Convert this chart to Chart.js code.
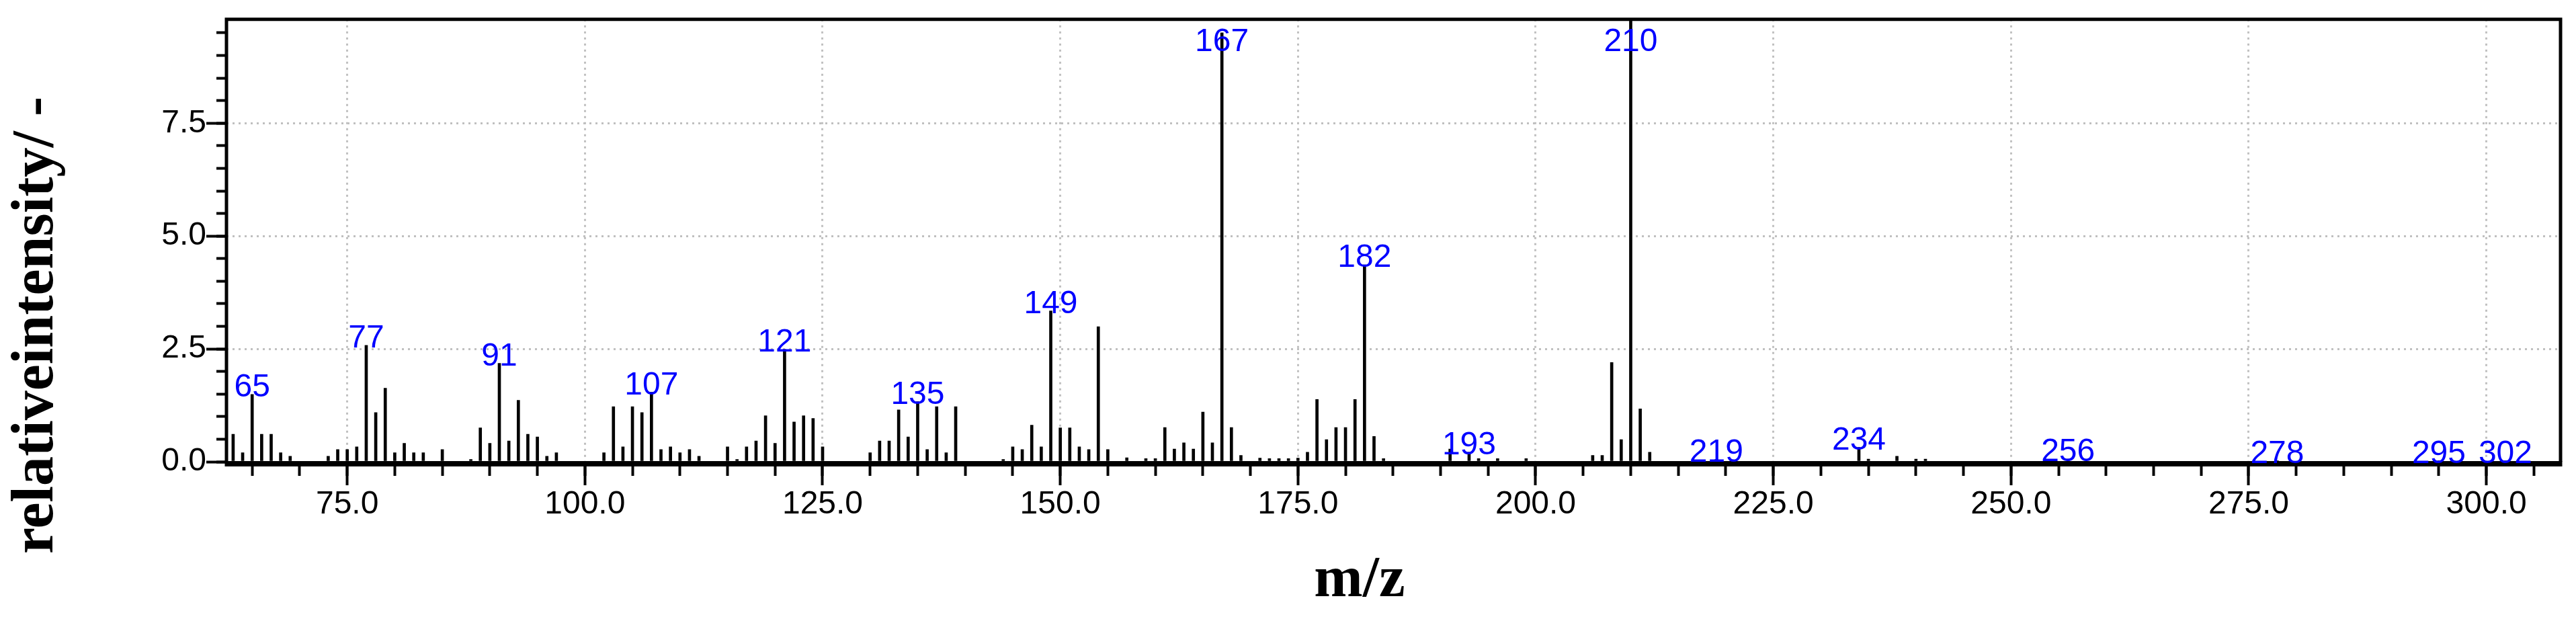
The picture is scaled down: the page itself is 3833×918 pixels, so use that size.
<!DOCTYPE html>
<html>
<head>
<meta charset="utf-8">
<script src="https://cdn.jsdelivr.net/npm/chart.js@4"></script>
<style>
  html, body { margin: 0; padding: 0; background: #fff; }
  canvas { display: block; }
</style>
</head>
<body>
<canvas id="ms" width="3833" height="918"></canvas>
<script>
// m/z values and relative intensities
const mz = [63, 64, 65, 66, 67, 68, 69, 73, 74, 75, 76, 77, 78, 79, 80, 81, 82, 83, 85,
  88, 89, 90, 91, 92, 93, 94, 95, 96, 97, 102, 103, 104, 105, 106, 107, 108, 109, 110, 111, 112,
  115, 116, 117, 118, 119, 120, 121, 122, 123, 124, 125, 130, 131, 132, 133, 134, 135, 136, 137, 138, 139,
  144, 145, 146, 147, 148, 149, 150, 151, 152, 153, 154, 155, 157, 159, 160, 161, 162, 163, 164, 165, 166,
  167, 168, 169, 171, 172, 173, 174, 175, 176, 177, 178, 179, 180, 181, 182, 183, 184,
  191, 193, 194, 196, 199, 206, 207, 208, 209, 210, 211, 212, 219, 234, 235, 238, 240, 241,
  256, 278, 295, 302];
const intensity = [0.61, 0.20, 1.49, 0.61, 0.61, 0.20, 0.12, 0.12, 0.27, 0.27, 0.33, 2.58, 1.09, 1.63, 0.20, 0.41, 0.20, 0.20, 0.27,
  0.05, 0.75, 0.41, 2.18, 0.46, 1.36, 0.61, 0.55, 0.12, 0.20, 0.20, 1.22, 0.33, 1.22, 1.09, 1.54, 0.27, 0.33, 0.20, 0.27, 0.12,
  0.33, 0.05, 0.33, 0.46, 1.02, 0.41, 2.49, 0.88, 1.02, 0.96, 0.33, 0.20, 0.46, 0.46, 1.15, 0.55, 1.33, 0.27, 1.22, 0.20, 1.22,
  0.05, 0.33, 0.27, 0.81, 0.33, 3.34, 0.75, 0.75, 0.33, 0.27, 2.99, 0.27, 0.09, 0.07, 0.07, 0.76, 0.28, 0.42, 0.28, 1.10, 0.42,
  9.50, 0.76, 0.14, 0.08, 0.07, 0.07, 0.07, 0.08, 0.21, 1.38, 0.49, 0.76, 0.76, 1.38, 4.36, 0.56, 0.07,
  0.28, 0.21, 0.07, 0.07, 0.07, 0.14, 0.14, 2.20, 0.49, 9.80, 1.17, 0.21, 0.05, 0.32, 0.06, 0.12, 0.06, 0.06,
  0.06, 0.02, 0.02, 0.02];

// peaks that carry a blue m/z label
const labelledPeaks = [65, 77, 91, 107, 121, 135, 149, 167, 182, 193, 210, 219, 234, 256, 278, 295, 302];

const xMin = 62.3, xMax = 307.8;
const yMin = 0, yMax = 9.8;
const xTitle = 'm/z';
const yTitle = 'relativeintensity/ -';

const sans = 'Liberation Sans';
const serif = 'Liberation Serif';

const frame = {
  id: 'frame',
  afterDraw(chart) {
    const ctx = chart.ctx;
    const { left, top, right, bottom } = chart.chartArea;
    ctx.save();
    ctx.strokeStyle = '#000';
    ctx.lineWidth = 5;
    ctx.beginPath();
    ctx.moveTo(left, bottom);
    ctx.lineTo(left, top);
    ctx.lineTo(right, top);
    ctx.lineTo(right, bottom);
    ctx.stroke();
    ctx.lineWidth = 8;
    ctx.beginPath();
    ctx.moveTo(left - 2.5, bottom + 3);
    ctx.lineTo(right + 2.5, bottom + 3);
    ctx.stroke();
    ctx.restore();
  }
};

const peakLabels = {
  id: 'peakLabels',
  afterDraw(chart) {
    const ctx = chart.ctx;
    const xs = chart.scales.x, ys = chart.scales.y;
    ctx.save();
    ctx.fillStyle = '#0000ff';
    ctx.font = '48px "' + sans + '"';
    ctx.textAlign = 'center';
    ctx.textBaseline = 'alphabetic';
    labelledPeaks.forEach(m => {
      const i = mz.indexOf(m);
      const px = xs.getPixelForValue(m);
      const py = ys.getPixelForValue(Math.min(intensity[i], yMax));
      ctx.fillText(String(m), px, Math.max(py + 3, chart.chartArea.top + 47));
    });
    ctx.restore();
  }
};

const titles = {
  id: 'titles',
  afterDraw(chart) {
    const ctx = chart.ctx;
    ctx.save();
    ctx.fillStyle = '#000';
    ctx.font = 'bold 87px "' + serif + '"';
    ctx.textAlign = 'center';
    ctx.textBaseline = 'alphabetic';
    ctx.fillText(xTitle, 2023, 887);
    ctx.translate(78, 824);
    ctx.rotate(-Math.PI / 2);
    ctx.font = 'bold 88px "' + serif + '"';
    ctx.textAlign = 'left';
    ctx.fillText(yTitle, 0, 0);
    ctx.restore();
  }
};

const tickFont = { family: sans, size: 48 };

new Chart(document.getElementById('ms'), {
  type: 'bar',
  data: {
    datasets: [{
      data: mz.map((m, i) => ({ x: m, y: intensity[i] })),
      backgroundColor: '#000',
      borderWidth: 0,
      barThickness: 4
    }]
  },
  options: {
    responsive: false,
    animation: false,
    layout: { padding: { top: 27, right: 23, left: 0, bottom: 0 } },
    plugins: { legend: { display: false }, tooltip: { enabled: false } },
    scales: {
      x: {
        type: 'linear', min: xMin, max: xMax, offset: false,
        border: { display: false, dash: [3, 6] },
        grid: { color: '#c0c0c0', lineWidth: 3, offset: false, tickLength: 35, tickWidth: 4, tickColor: '#000' },
        ticks: { stepSize: 25, includeBounds: false, autoSkip: false, maxRotation: 0, padding: 0,
                 color: '#000', font: tickFont, callback: v => v.toFixed(1) },
        afterFit: s => { s.height = 231; }
      },
      y: {
        type: 'linear', min: yMin, max: yMax,
        border: { display: false, dash: [3, 6] },
        grid: { color: '#c0c0c0', lineWidth: 3, tickLength: 30, tickWidth: 4, tickColor: '#000' },
        ticks: { stepSize: 2.5, includeBounds: false, padding: 0,
                 color: '#000', font: tickFont, callback: v => v.toFixed(1) },
        afterFit: s => { s.width = 337; }
      },
      xMinor: {
        axis: 'x', type: 'linear', min: xMin, max: xMax, offset: false,
        position: { y: 0 },
        border: { display: false },
        grid: { drawOnChartArea: false, offset: false, tickLength: 21, tickWidth: 4, tickColor: '#000' },
        ticks: { display: false, stepSize: 5, includeBounds: false }
      },
      yMinor: {
        axis: 'y', type: 'linear', min: yMin, max: yMax,
        position: { x: xMin },
        border: { display: false },
        grid: { drawOnChartArea: false, tickLength: 15, tickWidth: 4, tickColor: '#000' },
        ticks: { display: false, stepSize: 0.5, includeBounds: false }
      }
    }
  },
  plugins: [frame, peakLabels, titles]
});
</script>
</body>
</html>
